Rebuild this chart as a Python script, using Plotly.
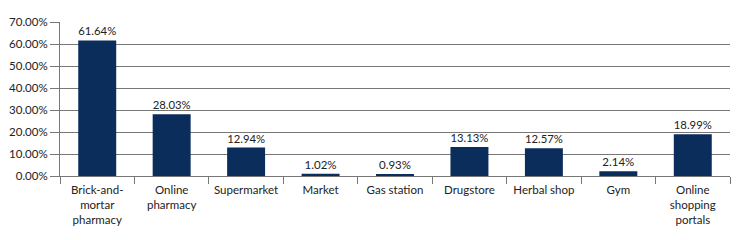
import plotly.graph_objects as go

categories = ["Brick-and-<br>mortar<br>pharmacy", "Online<br>pharmacy", "Supermarket", "Market",
              "Gas station", "Drugstore", "Herbal shop", "Gym", "Online<br>shopping<br>portals"]
values = [61.64, 28.03, 12.94, 1.02, 0.93, 13.13, 12.57, 2.14, 18.99]
y_ticks = [0, 10, 20, 30, 40, 50, 60, 70]
y_tick_labels = [f"{v:.2f}%" for v in y_ticks]

FONT = "Lato, sans-serif"

fig = go.Figure(go.Bar(
    x=categories, y=values,
    marker=dict(color="#0b2d5b", line=dict(width=0)),
    texttemplate="%{y:.2f}%", textposition="outside",
    textfont=dict(family=FONT, size=11.5, color="#222"),
    cliponaxis=False,
))

# page body has an 8px margin, so the figure is shifted by 8px; compensate
fig.update_layout(
    width=736, height=232,
    margin=dict(l=52, r=14, t=14, b=64),
    plot_bgcolor="white", paper_bgcolor="white",
    bargap=0.49,
    showlegend=False,
    font=dict(family=FONT, size=11.5, color="#222"),
)
fig.update_yaxes(
    range=[0, 70], tickvals=y_ticks, ticktext=y_tick_labels,
    showgrid=True, gridcolor="#777", gridwidth=1,
    ticks="outside", ticklen=9, tickcolor="#777",
    showline=True, linecolor="#777", linewidth=1,
    zeroline=False, automargin=False,
    tickfont=dict(family=FONT, size=11.5, color="#222"),
)
fig.update_xaxes(
    ticks="outside", tickson="boundaries", ticklen=7, tickcolor="#777",
    showline=True, linecolor="#777", linewidth=1,
    tickangle=0, automargin=False, ticklabelstandoff=3,
    tickfont=dict(family=FONT, size=11.5, color="#222"),
)

fig.write_html("out.html")
